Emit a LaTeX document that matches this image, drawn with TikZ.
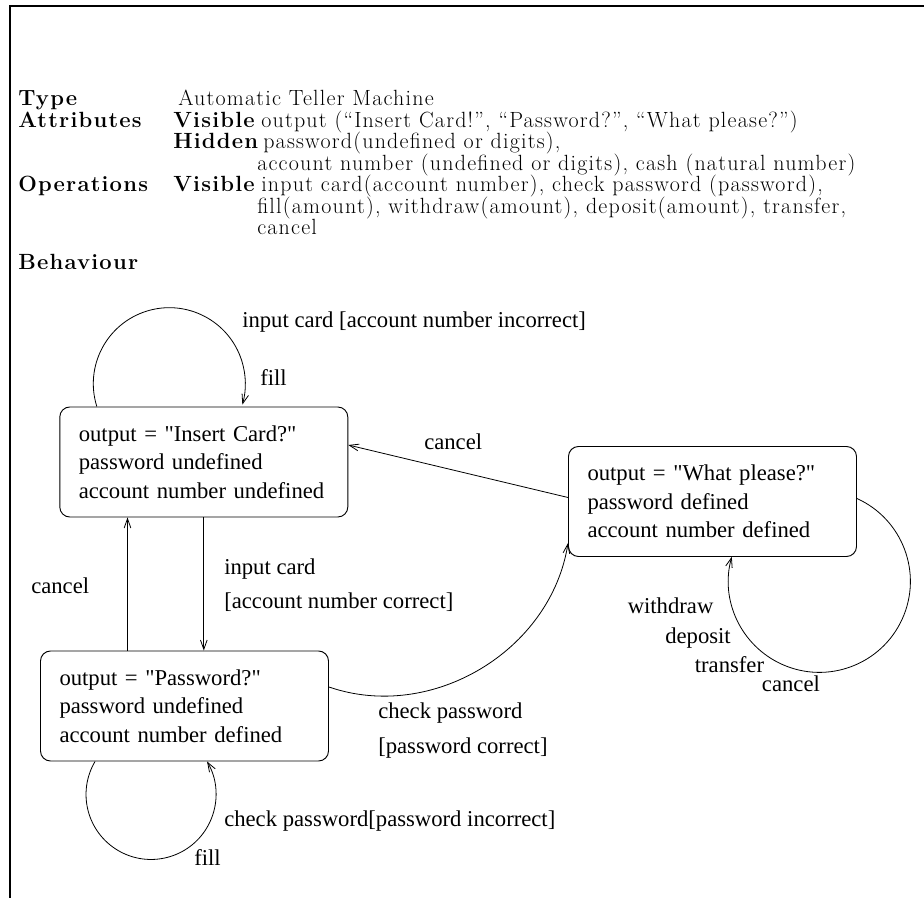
\documentclass[tikz,border=0pt]{standalone}
\usepackage{fontspec}
\usetikzlibrary{arrows.meta,calc}
\newfontfamily\tms{Liberation Serif}
\newfontfamily\hdr[LetterSpace=5.5]{Latin Modern Roman}
\begin{document}
\begin{tikzpicture}[x=0.75pt,y=0.75pt,
  hd/.style={anchor=base west, inner sep=0pt, font=\hdr\fontsize{16.5}{17}\selectfont},
  hdb/.style={anchor=base west, inner sep=0pt, font=\hdr\bfseries\fontsize{16.5}{17}\selectfont},
  state/.style={draw, line width=0.7pt, rounded corners=7.5pt, minimum height=82.5pt,
    text width=187.5pt, inner xsep=14.25pt, inner ysep=0pt, align=left,
    font=\tms\fontsize{17}{21.4}\selectfont},
  lbl/.style={anchor=base west, inner sep=0pt, font=\tms\fontsize{17}{21}\selectfont},
  arr/.style={line width=0.6pt, -{Straight Barb[length=7pt,width=5pt]}},
  frame/.style={line width=1.8pt}
]
\useasboundingbox (0,0) rectangle (924,-898);
% frame
\coordinate (fA) at (10,-898);
\coordinate (fB) at (10,-6);
\coordinate (fC) at (930,-6);
\draw[frame] (fA) -- (fB) -- (fC);

% header
\node[hdb] (tType) at (18,-106) {Type};
\node[hd]  (tATM)  at (178,-106) {Automatic Teller Machine};
\node[hdb] (tAttr) at (18,-127.5) {Attributes};
\node[hdb] (tVis1) at (173,-127.5) {Visible};
\node[hd]  (tOut)  at (261,-127.5) {output (“Insert Card!”, “Password?”, “What please?”)};
\node[hdb] (tHid)  at (173,-149) {Hidden};
\node[hd]  (tPw)   at (263,-149) {password(undefined or digits),};
\node[hd]  (tAcc)  at (257,-170.5) {account number (undefined or digits), cash (natural number)};
\node[hdb] (tOps)  at (18,-192) {Operations};
\node[hdb] (tVis2) at (173,-192) {Visible};
\node[hd]  (tIn)   at (261,-192) {input card(account number), check password (password),};
\node[hd]  (tFill) at (257,-213.5) {fill(amount), withdraw(amount), deposit(amount), transfer,};
\node[hd]  (tCan)  at (257,-235) {cancel};
\node[hdb] (tBeh)  at (18,-270) {Behaviour};

% states
\node[state] (b1) at (203.8,-462) {output = "Insert Card?"\\password undefined\\account number undefined};
\node[state] (b2) at (184.5,-706) {output = "Password?"\\password undefined\\account number defined};
\node[state] (b3) at (712.5,-501.5) {output = "What please?"\\password defined\\account number defined};

% b1 self loop
\draw[arr] ($(b1.north west)+(37.5,0)$) arc[start angle=197.5, end angle=-16, radius=76];
\node[lbl] (l1) at (242,-328) {input card [account number incorrect]};
\node[lbl] (l2) at (260,-385) {fill};

% cancel b3 -> b1
\draw[arr] ($(b3.west)+(0,4)$) -- ($(b1.east)+(0,17)$);
\node[lbl] (l3) at (424,-449) {cancel};

% b1 -> b2
\draw[arr] (b1.south) -- (b1.south |- b2.north);
\node[lbl] (l4) at (224,-574) {input card};
\node[lbl] (l5) at (224,-608) {[account number correct]};

% b2 -> b1 cancel
\coordinate (c2) at ($(b2.north)+(-57,0)$);
\draw[arr] (c2) -- (c2 |- b1.south);
\node[lbl] (l6) at (31,-593) {cancel};

% b2 -> b3
\draw[arr] ($(b2.east)+(0,19)$) to[out=-19,in=-99] ($(b3.south west)+(0,14)$);
\node[lbl] (l7) at (378,-718) {check password};
\node[lbl] (l8) at (378,-753) {[password correct]};

% b2 self loop
\draw[arr] ($(b2.south west)+(55,0)$) arc[start angle=149.5, end angle=390.5, radius=65];
\node[lbl] (l9) at (224,-826.7) {check password[password incorrect]};
\node[lbl] (l10) at (194,-865) {fill};

% b3 self loop
\draw[arr] ($(b3.east)+(0,3)$) arc[start angle=65.6, end angle=-195.7, radius=91];
\node[lbl] (l11) at (627.5,-613.8) {withdraw};
\node[lbl] (l12) at (665,-643) {deposit};
\node[lbl] (l13) at (694.6,-672.5) {transfer};
\node[lbl] (l14) at (761.7,-691) {cancel};
\end{tikzpicture}
\end{document}
